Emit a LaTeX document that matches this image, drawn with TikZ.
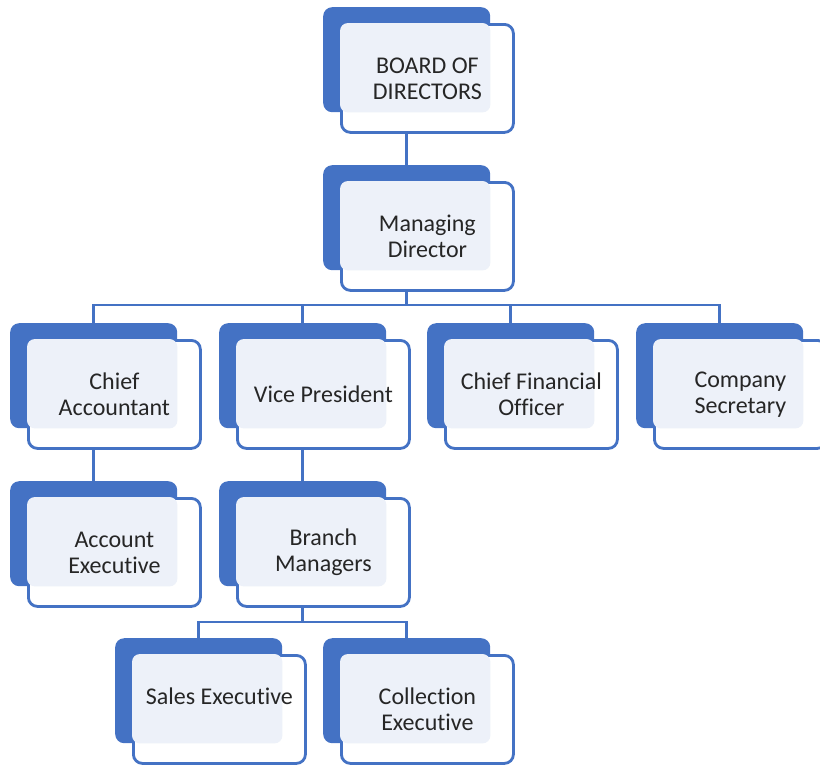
\documentclass[tikz,border=0pt]{standalone}
\usepackage{fontspec}
\setmainfont[RawFeature=-liga]{Carlito}
\usetikzlibrary{positioning}
\definecolor{orgblue}{HTML}{4472C4}
\definecolor{orglight}{HTML}{EDF1F9}
\definecolor{orgtext}{HTML}{262626}
\tikzset{
  backbox/.style={fill=orgblue, rounded corners=9pt, minimum width=167pt,
    minimum height=105pt, anchor=north west, inner sep=0pt},
  frontbox/.style={draw=orgblue, line width=2.8pt, fill=white, rounded corners=9pt,
    minimum width=172pt, minimum height=108pt, anchor=north west, inner sep=0pt},
  link/.style={draw=orgblue, line width=2.8pt},
  label/.style={text=orgtext, align=center, font=\fontsize{24}{26}\selectfont}
}
% one chart box: [text shift], name, x, y (top left of the dark part), text
\newcommand{\orgunit}[5][0pt]{%
  \node[backbox] (#2b) at (#3,#4) {};
  \node[frontbox] (#2) at ([shift={(17pt,-16pt)}]#2b.north west) {};
  \fill[orglight, rounded corners=8pt] (#2.north west) rectangle (#2b.south east);
  \node[label, yshift=#1] (#2t) at (#2) {#5};
}
\begin{document}
\begin{tikzpicture}[x=1pt,y=-1pt]
  \useasboundingbox (0,0) rectangle (820,764);

  %% the boxes
  \orgunit{bod}{323}{7}{BOARD OF\\DIRECTORS}
  \orgunit{md}{323}{165}{Managing\\Director}

  \orgunit{ca}{10}{323}{Chief\\Accountant}
  \orgunit{vp}{219}{323}{Vice President}
  \orgunit{cfo}{427}{323}{Chief Financial\\Officer}
  \orgunit{cs}{636}{323}{Company\\Secretary}

  \orgunit{ae}{10}{481}{Account\\Executive}
  \orgunit{bm}{219}{481}{Branch\\Managers}

  \orgunit[13pt]{se}{115}{638}{Sales Executive}
  \orgunit{ce}{323}{638}{Collection\\Executive}

  %% the lines
  \draw[link] (bodb |- bod.south) -- (mdb.north);

  \coordinate (bus1) at (0,305);
  \draw[link] (mdb |- md.south) -- (mdb |- bus1);
  \draw[link] (cab.north) -- (cab |- bus1) -- (csb |- bus1) -- (csb.north);
  \draw[link] (vpb |- bus1) -- (vpb.north);
  \draw[link] (cfob |- bus1) -- (cfob.north);

  \draw[link] (cab |- ca.south) -- (aeb.north);
  \draw[link] (vpb |- vp.south) -- (bmb.north);

  \coordinate (bus2) at (0,622);
  \draw[link] (bmb |- bm.south) -- (bmb |- bus2);
  \draw[link] (seb.north) -- (seb |- bus2) -- (ceb |- bus2) -- (ceb.north);
\end{tikzpicture}
\end{document}
